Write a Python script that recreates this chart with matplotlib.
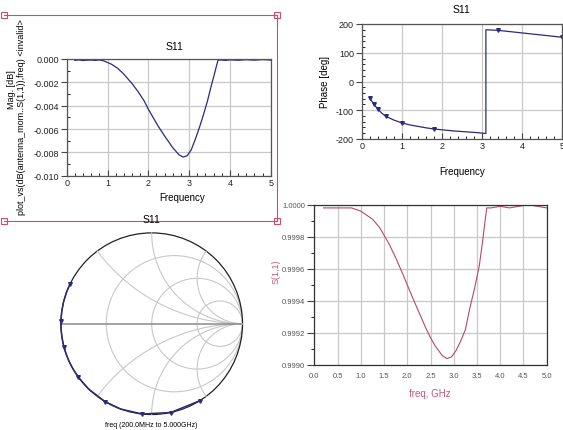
import numpy as np
import matplotlib
matplotlib.use("Agg")
import matplotlib.pyplot as plt
from matplotlib.patches import Circle, Rectangle
from matplotlib.ticker import MultipleLocator, FormatStrFormatter

# S11 magnitude in dB
freq_db = [0.2, 0.3, 0.4, 0.5, 0.6, 0.7, 0.8, 0.9, 1.0, 1.1, 1.25, 1.4, 1.5, 1.6, 1.75,
           1.9, 2.0, 2.1, 2.25, 2.4, 2.5, 2.6, 2.75, 2.85, 2.95, 3.05, 3.15, 3.25, 3.35,
           3.45, 3.55, 3.62, 3.67, 3.71, 3.75, 3.9, 4.0, 4.2, 4.4, 4.6, 4.8, 5.0]
mag_db = [-0.00012, -0.00008, -0.00013, -0.0001, -0.00009, -0.00012, -0.00008, -0.00015,
          -0.0003, -0.00045, -0.0008, -0.0013, -0.0017, -0.0021, -0.0028, -0.0036, -0.0043,
          -0.0049, -0.0058, -0.0066, -0.0071, -0.0076, -0.0082, -0.0084, -0.0083, -0.0078,
          -0.0069, -0.0059, -0.0048, -0.0036, -0.0022, -0.0013, -0.0006, -0.0001, -0.00008,
          -0.00012, -0.00007, -0.00011, -0.00006, -0.0001, -0.00005, -0.00009]

# S11 linear magnitude (bottom-right plot)
freq_lin = [0.2, 0.4, 0.6, 0.8, 0.9, 1.0, 1.1, 1.25, 1.4, 1.5, 1.6, 1.75, 1.9, 2.0, 2.1,
            2.25, 2.4, 2.5, 2.6, 2.75, 2.85, 2.95, 3.05, 3.15, 3.25, 3.35, 3.45, 3.55, 3.62,
            3.67, 3.71, 3.8, 4.0, 4.2, 4.4, 4.6, 4.8, 5.0]
mag_lin = [0.99998, 0.99998, 0.99998, 0.99998, 0.99997, 0.99996, 0.99994, 0.99991, 0.99986,
           0.99981, 0.99976, 0.99967, 0.99957, 0.99950, 0.99943, 0.99933, 0.99923, 0.99917,
           0.99912, 0.99906, 0.99904, 0.99905, 0.99909, 0.99915, 0.99922, 0.99936, 0.99948,
           0.99962, 0.99977, 0.99989, 0.99998, 0.99998, 0.99999, 0.99998, 0.99999, 1.0,
           0.99999, 0.99998]

# S11 phase in degrees (top-right plot), jump at ~3.1 GHz
freq_ph = [0.2, 0.3, 0.4, 0.5, 0.6, 0.8, 1.0, 1.2, 1.4, 1.6, 1.8, 2.0, 2.3, 2.6, 2.9, 3.1,
           3.1, 3.4, 3.8, 4.2, 4.6, 5.0]
phase = [-58, -78, -96, -110, -121, -134, -144, -151, -156, -161, -165, -168, -172, -175,
         -178, -181, 180, 178, 172, 166, 160, 154]
marker_idx = [0, 1, 2, 4, 6, 10, 17, 21]

# smith chart grid values
r_circles = [1 / 3, 1, 3]
x_arcs = [0.5, 1, 2]

W, H = 563, 431
NAVY = "#2b2b78"
GRID = "#c8c8c8"
PINK = "#c0587a"

plt.rcParams["font.family"] = ["Liberation Sans", "DejaVu Sans"]
plt.rcParams["axes.unicode_minus"] = False

fig = plt.figure(figsize=(W / 100, H / 100), dpi=100)
fig.patch.set_facecolor("white")


def px_axes(left, top, right, bottom):
    return fig.add_axes([left / W, 1 - bottom / H, (right - left) / W, (bottom - top) / H])


def style_rect(ax, spine_col="#555555"):
    for s in ax.spines.values():
        s.set_color(spine_col)
        s.set_linewidth(0.9)
    ax.grid(True, which="major", color=GRID, lw=0.9)
    ax.set_axisbelow(True)
    ax.tick_params(labelsize=6.5, colors="#444444", labelcolor="#222222", pad=1.5)


# ---- top left: Mag [dB]
ax1 = px_axes(66.7, 60, 270.7, 176.7)
ax1.plot(freq_db, mag_db, color=NAVY, lw=0.9)
ax1.set_xlim(0, 5)
ax1.set_ylim(-0.010, 0.0)
ax1.xaxis.set_major_locator(MultipleLocator(1))
ax1.xaxis.set_minor_locator(MultipleLocator(0.2))
ax1.yaxis.set_major_locator(MultipleLocator(0.002))
ax1.yaxis.set_minor_locator(MultipleLocator(0.001))
ax1.yaxis.set_major_formatter(FormatStrFormatter("%.3f"))
style_rect(ax1)
ax1.tick_params(axis="x", which="both", direction="in")
ax1.tick_params(axis="x", which="major", length=4)
ax1.tick_params(axis="x", which="minor", length=2.5)
ax1.tick_params(axis="y", which="major", direction="out", length=4)
ax1.tick_params(axis="y", which="minor", direction="in", length=2.5)
fig.text(175 / W, 1 - 47 / H, "S11", ha="center", va="center", fontsize=7.5)
fig.text(182 / W, 1 - 198 / H, "Frequency", ha="center", va="center", fontsize=7)
fig.text(11 / W, 1 - 90 / H, "Mag. [dB]", rotation=90, ha="center", va="center", fontsize=6.5)
fig.text(22 / W, 1 - 117 / H, "plot_vs(dB(antenna_mom..S(1,1)),freq) <invalid>",
         rotation=90, ha="center", va="center", fontsize=6.5)

# ---- top right: phase
ax2 = px_axes(361.7, 25, 562, 140)
ax2.plot(freq_ph, phase, color=NAVY, lw=0.9, marker="v", ms=2.6,
         markevery=marker_idx, mfc=NAVY, mec=NAVY)
ax2.set_xlim(0, 5)
ax2.set_ylim(-200, 200)
ax2.xaxis.set_major_locator(MultipleLocator(1))
ax2.xaxis.set_minor_locator(MultipleLocator(0.2))
ax2.yaxis.set_major_locator(MultipleLocator(100))
ax2.yaxis.set_minor_locator(MultipleLocator(20))
style_rect(ax2)
ax2.tick_params(axis="x", which="both", direction="in")
ax2.tick_params(axis="x", which="major", length=4)
ax2.tick_params(axis="x", which="minor", length=2.5)
ax2.tick_params(axis="y", which="major", direction="out", length=4)
ax2.tick_params(axis="y", which="minor", direction="in", length=2.5)
fig.text(461.7 / W, 1 - 10 / H, "S11", ha="center", va="center", fontsize=7.5)
fig.text(461.7 / W, 1 - 171.7 / H, "Frequency", ha="center", va="center", fontsize=7)
fig.text(325 / W, 1 - 82 / H, "Phase [deg]", rotation=90, ha="center", va="center", fontsize=7)

# ---- bottom left: smith chart
cx, cy, rad = 151.7, 324.7, 90.8
half = rad * 1.06
ax3 = px_axes(cx - half, cy - half, cx + half, cy + half)
ax3.set_xlim(-1.06, 1.06)
ax3.set_ylim(-1.06, 1.06)
ax3.set_aspect("equal")
ax3.axis("off")
for r in r_circles:
    ax3.add_patch(Circle((r / (1 + r), 0), 1 / (1 + r), fill=False, ec=GRID, lw=0.8))
rr = np.concatenate([np.linspace(0, 5, 200), np.logspace(0.7, 4, 200)])
for xv in x_arcs:
    for sgn in (1, -1):
        z = rr + 1j * sgn * xv
        g = (z - 1) / (z + 1)
        ax3.plot(g.real, g.imag, color=GRID, lw=0.8)
ax3.plot([-1, 1], [0, 0], color="#8a8a8a", lw=1.1)
ax3.add_patch(Circle((0, 0), 1, fill=False, ec="#222222", lw=0.9))
rho = np.interp(freq_ph, freq_lin, mag_lin)
ang = np.deg2rad(phase)
ax3.plot(rho * np.cos(ang), rho * np.sin(ang), color=NAVY, lw=1.1, marker="v", ms=2.6,
         markevery=marker_idx, mfc=NAVY, mec=NAVY)
fig.text(cx / W, 1 - 220 / H, "S11", ha="center", va="center", fontsize=7.5)
fig.text(cx / W, 1 - 425.5 / H, "freq (200.0MHz to 5.000GHz)", ha="center", va="center",
         fontsize=5)

# ---- bottom right: linear magnitude
ax4 = px_axes(314.3, 205.7, 546.7, 366)
ax4.plot(freq_lin, mag_lin, color="#b8486a", lw=0.8)
ax4.set_xlim(0, 5)
ax4.set_ylim(0.9990, 1.0000)
ax4.xaxis.set_major_locator(MultipleLocator(0.5))
ax4.yaxis.set_major_locator(MultipleLocator(0.0002))
ax4.yaxis.set_minor_locator(MultipleLocator(0.0001))
ax4.yaxis.set_major_formatter(FormatStrFormatter("%.4f"))
ax4.xaxis.set_major_formatter(FormatStrFormatter("%.1f"))
style_rect(ax4, "#333333")
ax4.tick_params(labelsize=5.5, labelcolor="#555555")
ax4.tick_params(axis="x", length=0, pad=5)
ax4.tick_params(axis="y", which="major", direction="out", length=5)
ax4.tick_params(axis="y", which="minor", direction="out", length=2.5)
fig.text(430 / W, 1 - 394 / H, "freq, GHz", ha="center", va="center", fontsize=7,
         color=PINK)
fig.text(276 / W, 1 - 272 / H, "S(1,1)", rotation=90, ha="center", va="center",
         fontsize=6.5, color=PINK)

# ---- red selection box around the first plot
RED = "#c8506a"
bx0, by0, bx1, by1 = 4, 16, 277, 222
fig.add_artist(plt.Line2D([bx0 / W, bx1 / W], [1 - by0 / H, 1 - by0 / H], color=RED, lw=0.8))
fig.add_artist(plt.Line2D([bx0 / W, bx1 / W], [1 - by1 / H, 1 - by1 / H], color=RED, lw=0.8))
fig.add_artist(plt.Line2D([bx1 / W, bx1 / W], [1 - by0 / H, 1 - by1 / H], color=RED, lw=0.8))
for (qx, qy) in [(bx0, by0), (bx1, by0), (bx0, by1), (bx1, by1)]:
    fig.add_artist(Rectangle(((qx - 3) / W, 1 - (qy + 3) / H), 6 / W, 6 / H,
                             transform=fig.transFigure, fc="white", ec=RED, lw=0.8))

fig.savefig("out.png", dpi=100)
